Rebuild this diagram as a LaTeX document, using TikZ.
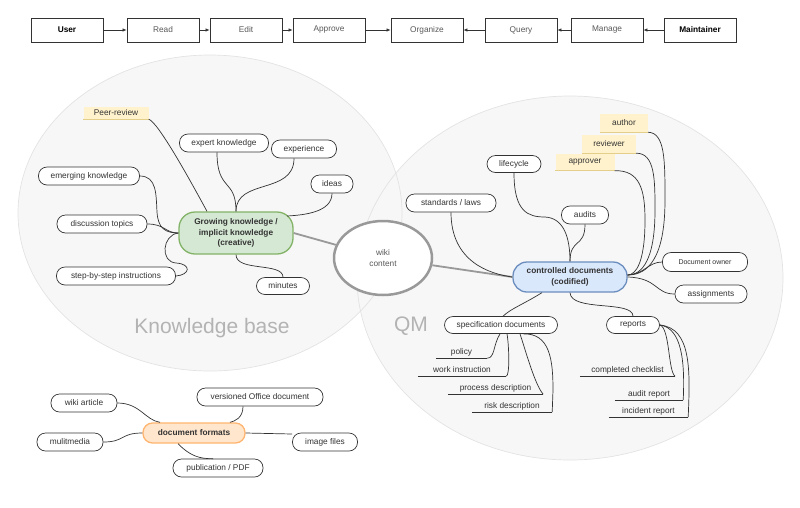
\documentclass[tikz,border=0pt]{standalone}
\usepackage{fontspec}
\setmainfont{Liberation Sans}
\usetikzlibrary{arrows.meta,shapes.geometric}
\definecolor{ln}{HTML}{333333}
\definecolor{txt}{HTML}{333333}
\definecolor{gtxt}{HTML}{595959}
\definecolor{bgf}{HTML}{F7F7F7}
\definecolor{bgl}{HTML}{E3E3E3}
\definecolor{bigt}{HTML}{B3B3B3}
\definecolor{wk}{HTML}{999999}
\definecolor{grf}{HTML}{D5E8D4}
\definecolor{grl}{HTML}{82B366}
\definecolor{blf}{HTML}{DAE8FC}
\definecolor{bll}{HTML}{6C8EBF}
\definecolor{orf}{HTML}{FFE6CC}
\definecolor{orl}{HTML}{FFB570}
\definecolor{yef}{HTML}{FFF2CC}
\definecolor{yel}{HTML}{E3CF8A}
\newcommand\myfs{\fontsize{8.3}{10.5}\selectfont}
\tikzset{
  base/.style={font=\myfs, text=txt, inner sep=0pt, align=center},
  sz/.style 2 args={minimum width=#1pt, minimum height=#2pt},
  leaf/.style={base, draw=ln, fill=white, rounded corners=8.5pt, line width=0.7pt},
  tag/.style={base, fill=yef},
  ulab/.style={base},
  con/.style={draw=ln, line width=0.7pt},
  topbox/.style={base, text=gtxt, draw=ln, fill=white, sz={72}{24}, line width=0.8pt},
  toparrow/.style={draw=ln, line width=0.7pt, -{Latex[length=4pt,width=3.5pt]}},
  bigtext/.style={font=\fontsize{21}{25}\selectfont, text=bigt, inner sep=0pt},
  thick con/.style={draw=wk, line width=1.8pt},
}
\begin{document}
\begin{tikzpicture}[x=1pt,y=-1pt]
\useasboundingbox (0,0) rectangle (800,507);

% background areas
\fill[bgf] (210,213) ellipse [x radius=192, y radius=158];
\fill[bgf] (570,278) ellipse [x radius=213, y radius=182];
\draw[bgl, line width=0.7pt] (210,213) ellipse [x radius=192, y radius=158];
\draw[bgl, line width=0.7pt] (570,278) ellipse [x radius=213, y radius=182];
\node[bigtext] (kb) at (212,328) {Knowledge base};
\node[bigtext] (qm) at (411,326) {QM};

% top bar
\node[topbox, text=black, font=\myfs\bfseries] (user) at (67,30) {User};
\node[topbox] (read) at (163,30) {Read};
\node[topbox] (edit) at (246,30) {Edit};
\node[topbox] (approve) at (329,30) {Approve};
\node[topbox] (organize) at (427,30) {Organize};
\node[topbox] (query) at (521,30) {Query};
\node[topbox] (manage) at (607,30) {Manage};
\node[topbox, text=black, font=\myfs\bfseries] (maint) at (700,30) {Maintainer};
\draw[toparrow] (user) -- (read);
\draw[toparrow] (read) -- (edit);
\draw[toparrow] (edit) -- (approve);
\draw[toparrow] (approve) -- (organize);
\draw[toparrow] (maint) -- (manage);
\draw[toparrow] (manage) -- (query);
\draw[toparrow] (query) -- (organize);

% central nodes
\node[base, text=gtxt, draw=wk, fill=white, line width=2.5pt, ellipse, minimum width=98pt, minimum height=74pt] (wiki) at (383,258) {wiki\\content};
\node[base, font=\myfs\bfseries, draw=grl, fill=grf, line width=1.3pt, rounded corners=16pt, sz={114}{42}] (green) at (236,233) {Growing knowledge /\\implicit knowledge\\(creative)};
\node[base, font=\myfs\bfseries, draw=bll, fill=blf, line width=1.3pt, rounded corners=14pt, sz={114}{30}] (blue) at (570,277) {controlled documents\\(codified)};
\node[base, font=\myfs\bfseries, draw=orl, fill=orf, line width=1.3pt, rounded corners=9.5pt, sz={102}{20}] (orange) at (194,433) {document formats};

\draw[thick con] (green.east) -- (wiki);
\draw[thick con] (wiki) -- (blue.west);

% left map leaves
\node[tag, sz={65}{12}] (peer) at (116,113) {Peer-review};
\node[leaf, sz={89}{18}] (expert) at (224,143) {expert knowledge};
\node[leaf, sz={65}{18}] (exper) at (304,149) {experience};
\node[leaf, sz={42}{18}] (ideas) at (332,184) {ideas};
\node[leaf, sz={101}{18}] (emerg) at (89,176) {emerging knowledge};
\node[leaf, sz={90}{18}] (disc) at (102,224) {discussion topics};
\node[leaf, sz={119}{18}] (step) at (116,276) {step-by-step instructions};
\node[leaf, sz={53}{17}] (minutes) at (283,286) {minutes};
\draw[yel, line width=0.8pt] (peer.south west) -- (peer.south east);

\draw[con] (peer.south east) .. controls (158,122) and (190,180) .. ([xshift=-29pt]green.north);
\draw[con] ([xshift=-7pt]expert.south) .. controls (217,192) and (236,178) .. (green.north);
\draw[con] ([xshift=-10pt]exper.south) .. controls (294,195) and (236,178) .. (green.north);
\draw[con] (ideas.south) .. controls (332,212) and (305,215) .. (287,216);
\draw[con] (emerg.east) .. controls (157,176) and (156,195) .. (157,212) .. controls (158,228) and (165,233) .. (green.west);
\draw[con] (disc.east) .. controls (165,224) and (165,233) .. (green.west);
\draw[con] (step.east) .. controls (190,275) and (192,264) .. (176,263) .. controls (160,262) and (162,235) .. (green.west);
\draw[con] (green.south) .. controls (236,272) and (283,262) .. (minutes.north);

% right map leaves
\node[leaf, sz={54}{17}] (life) at (514,164) {lifecycle};
\node[leaf, sz={90}{18}] (stand) at (451,203) {standards / laws};
\node[leaf, sz={47}{18}] (audits) at (585,215) {audits};
\node[tag, sz={48}{18}] (author) at (624,123) {author};
\node[tag, sz={54}{18}] (review) at (609,144) {reviewer};
\node[tag, sz={59}{17}] (approver) at (585,162) {approver};
\draw[yel, line width=0.8pt] (author.south west) -- (author.south east);
\draw[yel, line width=0.8pt] (review.south west) -- (review.south east);
\draw[yel, line width=0.8pt] (approver.south west) -- (approver.south east);
\node[leaf, sz={85}{19}, font=\fontsize{7}{8.5}\selectfont] (owner) at (705,262) {Document owner};
\node[leaf, sz={72}{18}] (assign) at (711,294) {assignments};
\node[leaf, sz={113}{17}] (spec) at (501,325) {specification documents};
\node[leaf, sz={53}{17}] (reports) at (633,325) {reports};

\draw[con] (life.south) .. controls (514,212) and (528,217) .. (545,217) .. controls (564,218) and (570,238) .. (blue.north);
\draw[con] (stand.south) .. controls (451,262) and (490,274) .. (blue.west);
\draw[con] (audits.south) .. controls (585,248) and (570,238) .. (blue.north);
\draw[con] (author.south east) .. controls (665,133) and (665,160) .. (665,200) .. controls (665,258) and (648,275) .. ([yshift=2pt]blue.east);
\draw[con] (review.south east) .. controls (655,153) and (655,180) .. (655,210) .. controls (655,260) and (642,275) .. ([yshift=2pt]blue.east);
\draw[con] (approver.south east) .. controls (640,170) and (645,190) .. (645,220) .. controls (645,262) and (636,275) .. ([yshift=2pt]blue.east);
\draw[con] (owner.west) .. controls (648,262) and (645,274) .. ([yshift=2pt]blue.east);
\draw[con] (assign.west) .. controls (655,294) and (658,278) .. (blue.east);
\draw[con] ([xshift=-28pt]blue.south) .. controls (522,305) and (512,308) .. ([xshift=2pt]spec.north);
\draw[con] (blue.south) .. controls (571,312) and (633,300) .. (reports.north);

% underline labels
\node[ulab, sz={51}{12}] (policy) at (461.5,352) {policy};
\node[ulab, sz={88}{12}] (wi) at (462,370) {work instruction};
\node[ulab, sz={95}{12}] (pd) at (495.5,388) {process description};
\node[ulab, sz={80}{12}] (rd) at (512,406) {risk description};
\node[ulab, sz={95}{12}] (cc) at (627.5,370) {completed checklist};
\node[ulab, sz={68}{12}] (ar) at (649,394) {audit report};
\node[ulab, sz={79}{12}] (ir) at (648.5,411) {incident report};
\foreach \n in {policy,wi,pd,rd,cc,ar,ir}
  \draw[con] (\n.south west) -- (\n.south east);

\draw[con] ([xshift=-1pt]spec.south) .. controls (493,345) and (495,358) .. (policy.south east);
\draw[con] ([xshift=6pt]spec.south) .. controls (509,345) and (510,376) .. (wi.south east);
\draw[con] ([xshift=19pt]spec.south) .. controls (526,352) and (535,385) .. (pd.south east);
\draw[con] ([xshift=22pt]spec.south) .. controls (550,333) and (553,360) .. (553,390) -- (rd.south east);
\draw[con] (reports.east) .. controls (670,328) and (668,372) .. (cc.south east);
\draw[con] (reports.east) .. controls (682,328) and (685,362) .. (ar.south east);
\draw[con] (reports.east) .. controls (692,328) and (690,372) .. (ir.south east);

% bottom map
\node[leaf, sz={66}{18}] (wart) at (84,403) {wiki article};
\node[leaf, sz={126}{18}] (office) at (260,397) {versioned Office document};
\node[leaf, sz={66}{18}] (mm) at (70,442) {mulitmedia};
\node[leaf, sz={65}{18}] (img) at (325,442) {image files};
\node[leaf, sz={90}{18}] (pub) at (218,468) {publication / PDF};

\draw[con] (wart.east) .. controls (140,403) and (145,420) .. ([xshift=-34pt]orange.north);
\draw[con] ([xshift=-17pt]office.south) .. controls (243,418) and (235,421) .. ([xshift=36pt]orange.north);
\draw[con] (mm.east) .. controls (125,442) and (120,433) .. (orange.west);
\draw[con] (orange.east) -- ([yshift=8pt]img.west);
\draw[con] ([xshift=-16pt]orange.south) .. controls (190,456) and (200,459) .. ([xshift=-5pt]pub.north);
\end{tikzpicture}
\end{document}
